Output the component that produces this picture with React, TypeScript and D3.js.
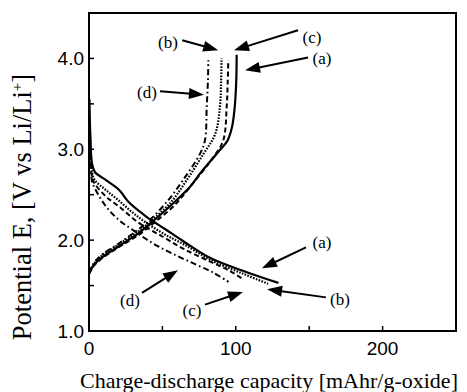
import * as d3 from "d3"

// capacity [mAhr/g-oxide], potential [V]
const chargeA = [[0, 1.63], [3, 1.72], [8, 1.8], [20, 1.93], [34, 2.08], [43, 2.2], [57, 2.4], [69, 2.59], [76, 2.74], [88, 2.97], [94.5, 3.1], [97.5, 3.25], [99.3, 3.47], [100.3, 3.75], [100.6, 4.04]]
const chargeB = [[0, 1.63], [3, 1.73], [8, 1.82], [20, 1.95], [34, 2.1], [43, 2.22], [56, 2.42], [66.5, 2.66], [78, 2.95], [86, 3.17], [89.2, 3.47], [90, 3.75], [90.3, 4.0]]
const chargeC = [[0, 1.63], [3, 1.71], [8, 1.79], [20, 1.92], [34, 2.06], [45, 2.2], [58, 2.38], [71, 2.63], [85, 2.92], [91.5, 3.1], [93.8, 3.47], [94.5, 3.75], [94.9, 3.98]]
const chargeD = [[0, 1.64], [3, 1.74], [8, 1.83], [20, 1.96], [33, 2.11], [42, 2.23], [54, 2.44], [64, 2.66], [75.6, 2.95], [79, 3.1], [80.2, 3.47], [81, 3.75], [81.3, 3.98]]

const dischargeA = [[0.3, 3.55], [1, 3.1], [2, 2.85], [4, 2.75], [11.6, 2.66], [20.7, 2.55], [27, 2.42], [39, 2.26], [52, 2.12], [65, 1.98], [83, 1.8], [107, 1.65], [129, 1.53]]
const dischargeB = [[0.5, 3.3], [1.2, 3.0], [2, 2.75], [4, 2.66], [11.6, 2.55], [20, 2.44], [30, 2.3], [40, 2.18], [52, 2.06], [65, 1.95], [83, 1.78], [105, 1.63], [122, 1.52]]
const dischargeC = [[0.5, 3.2], [1.2, 2.9], [2, 2.7], [4, 2.62], [11.6, 2.48], [20.5, 2.37], [34, 2.19], [50, 2.04], [65, 1.9], [83, 1.76], [95, 1.67], [105, 1.57]]
const dischargeD = [[0.5, 3.15], [1.2, 2.85], [2, 2.65], [4, 2.57], [11.6, 2.37], [20.5, 2.22], [30, 2.11], [43, 1.97], [57, 1.85], [73, 1.73], [85, 1.64], [95, 1.54]]

const xTicks = [0, 100, 200]
const xMinorTicks = [50, 150]
const yTicks = [1.0, 2.0, 3.0, 4.0]
const yMinorTicks = [1.5, 2.5, 3.5]

// label text, label position, arrow tail, arrow tip (data units)
const notes = [
  { text: "(b)", at: [53.8, 4.18], from: [63.5, 4.2], to: [88, 4.09] },
  { text: "(c)", at: [151.9, 4.24], from: [142.4, 4.31], to: [98.8, 4.09] },
  { text: "(a)", at: [158.7, 4.0], from: [149.2, 4.01], to: [106.3, 3.87] },
  { text: "(d)", at: [39.5, 3.63], from: [48.4, 3.64], to: [78.3, 3.6] },
  { text: "(a)", at: [158.7, 1.98], from: [147.8, 1.92], to: [117.8, 1.69] },
  { text: "(b)", at: [171, 1.35], from: [161.4, 1.37], to: [121.3, 1.46] },
  { text: "(c)", at: [70.2, 1.23], from: [79, 1.29], to: [104.9, 1.43] },
  { text: "(d)", at: [27.9, 1.34], from: [36.1, 1.42], to: [60.6, 1.67] },
]

const W = 467
const H = 392
const margin = { top: 13, right: 11, bottom: 61, left: 89 }

const x = d3.scaleLinear().domain([0, 250]).range([margin.left, W - margin.right])
const y = d3.scaleLinear().domain([1, 4.5]).range([H - margin.bottom, margin.top])

const line = d3
  .line<number[]>()
  .x((d) => x(d[0]))
  .y((d) => y(d[1]))
  .curve(d3.curveCatmullRom.alpha(0.5))

const styles = {
  a: { dash: "none", w: 2.2 },
  b: { dash: "1.6,1.4", w: 2.2 },
  c: { dash: "5,3", w: 2 },
  d: { dash: "6,3,1.6,3", w: 2 },
}

const series = [
  { key: "a", data: chargeA }, { key: "b", data: chargeB }, { key: "c", data: chargeC }, { key: "d", data: chargeD },
  { key: "a", data: dischargeA }, { key: "b", data: dischargeB }, { key: "c", data: dischargeC }, { key: "d", data: dischargeD },
]

function Arrow({ from, to }: { from: number[]; to: number[] }) {
  const x0 = x(from[0]), y0 = y(from[1]), x1 = x(to[0]), y1 = y(to[1])
  const len = Math.hypot(x1 - x0, y1 - y0)
  const ux = (x1 - x0) / len, uy = (y1 - y0) / len
  const hl = 15, hw = 5.5
  const bx = x1 - ux * hl, by = y1 - uy * hl
  const pts = [[x1, y1], [bx - uy * hw, by + ux * hw], [bx + uy * hw, by - ux * hw]]
  return (
    <g>
      <line x1={x0} y1={y0} x2={bx + ux * 2} y2={by + uy * 2} stroke="#000" strokeWidth={2} />
      <polygon points={pts.map((p) => p.join(",")).join(" ")} fill="#000" />
    </g>
  )
}

export default function App() {
  const x0 = margin.left, x1 = W - margin.right, y0 = H - margin.bottom, y1 = margin.top
  return (
    <svg width={W} height={H} style={{ position: "absolute", left: 0, top: 0, background: "#fff" }}>
      <rect x={x0} y={y1} width={x1 - x0} height={y0 - y1} fill="none" stroke="#000" strokeWidth={2} />
      {[...xTicks, ...xMinorTicks].map((t) => (
        <line key={"xt" + t} x1={x(t)} x2={x(t)} y1={y0} y2={y0 - 5} stroke="#000" strokeWidth={1.5} />
      ))}
      {[...yTicks, ...yMinorTicks].map((t) => (
        <line key={"yt" + t} x1={x0} x2={x0 + 5} y1={y(t)} y2={y(t)} stroke="#000" strokeWidth={1.5} />
      ))}
      <g fontFamily="'Liberation Sans', Arial, sans-serif" fontSize={19} fill="#000">
        {xTicks.map((t) => (
          <text key={"xl" + t} x={x(t)} y={y0 + 24} textAnchor="middle">{t}</text>
        ))}
        {yTicks.map((t) => (
          <text key={"yl" + t} x={x0 - 5} y={y(t) + 7} textAnchor="end">{t.toFixed(1)}</text>
        ))}
      </g>
      {series.map((s, i) => {
        const st = styles[s.key as keyof typeof styles]
        return (
          <path key={i} d={line(s.data as number[][]) ?? ""} fill="none" stroke="#000"
            strokeWidth={st.w} strokeDasharray={st.dash} />
        )
      })}
      <g fontFamily="'Liberation Serif', 'Times New Roman', serif" fontSize={17} fill="#000">
        {notes.map((n, i) => (
          <g key={i}>
            <text x={x(n.at[0])} y={y(n.at[1]) + 6} textAnchor="middle">{n.text}</text>
            <Arrow from={n.from} to={n.to} />
          </g>
        ))}
      </g>
      <g fontFamily="'Liberation Serif', 'Times New Roman', serif" fill="#000">
        <text x={269} y={388} fontSize={22} textAnchor="middle">Charge-discharge capacity [mAhr/g-oxide]</text>
        <text transform="translate(31,207) rotate(-90)" fontSize={26.5} textAnchor="middle">
          Potential E, [V vs Li/Li<tspan dy={-9} fontSize={15}>+</tspan><tspan dy={9}>]</tspan>
        </text>
      </g>
    </svg>
  )
}
